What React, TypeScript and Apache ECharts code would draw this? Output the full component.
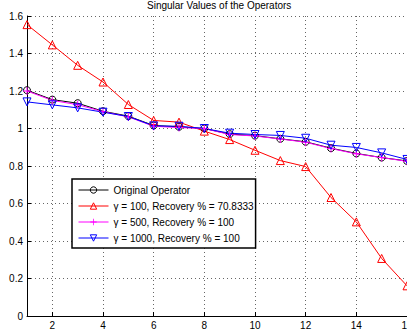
import React, { useEffect, useRef } from "react";
import * as echarts from "echarts";

const xValues = [1, 2, 3, 4, 5, 6, 7, 8, 9, 10, 11, 12, 13, 14, 15, 16];
const xTickValues = [2, 4, 6, 8, 10, 12, 14, 16];
const original = [1.204, 1.154, 1.135, 1.092, 1.066, 1.016, 1.009, 1.0, 0.97, 0.962, 0.945, 0.929, 0.895, 0.867, 0.845, 0.827];
const gamma100 = [1.554, 1.446, 1.337, 1.248, 1.128, 1.043, 1.034, 0.986, 0.941, 0.884, 0.829, 0.797, 0.632, 0.502, 0.307, 0.161];
const gamma500 = [1.2, 1.15, 1.127, 1.09, 1.062, 1.012, 1.005, 1.0, 0.968, 0.96, 0.944, 0.927, 0.893, 0.865, 0.845, 0.825];
const gamma1000 = [1.142, 1.126, 1.11, 1.087, 1.064, 1.014, 1.012, 1.0, 0.975, 0.968, 0.963, 0.948, 0.911, 0.899, 0.87, 0.835];
const seriesNames = [
  "Original Operator",
  "γ = 100, Recovery % = 70.8333",
  "γ = 500, Recovery % = 100",
  "γ = 1000, Recovery % = 100",
];

const FONT = "'Liberation Sans', Arial, sans-serif";
const CLEAR = "rgba(255,255,255,0)";

function pairs(ys: number[]) {
  return xValues.map((x, i) => [x, ys[i]]);
}

export default function App() {
  const ref = useRef<HTMLDivElement>(null);
  useEffect(() => {
    if (!ref.current) return;
    const chart = echarts.init(ref.current, undefined, { renderer: "svg" });
    const mk = (name: string, ys: number[], color: string, symbol: string, size: number, filled: boolean) => ({
      name,
      type: "line",
      data: pairs(ys),
      symbol,
      symbolSize: size,
      showAllSymbol: true,
      lineStyle: { color, width: 1 },
      itemStyle: filled
        ? { color, borderWidth: 0 }
        : { color: CLEAR, borderColor: color, borderWidth: 1 },
      emphasis: { disabled: true },
    });
    chart.setOption({
      animation: false,
      backgroundColor: "#ffffff",
      title: {
        text: "Singular Values of the Operators",
        left: 147,
        top: 0,
        padding: 0,
        textStyle: { fontFamily: FONT, fontSize: 10, fontWeight: "normal", color: "#000" },
      },
      grid: { left: 27, right: 0, top: 16, bottom: 18, containLabel: false, outerBoundsMode: "none" },
      xAxis: {
        type: "value",
        min: 1,
        max: 16,
        axisLine: { show: true, onZero: false, lineStyle: { color: "#000", width: 1 } },
        axisTick: { show: true, inside: true, length: 4, customValues: xTickValues, lineStyle: { color: "#000" } },
        axisLabel: { customValues: xTickValues, fontFamily: FONT, fontSize: 10, color: "#000", margin: 4, hideOverlap: false },
        splitLine: { show: true, lineStyle: { color: "#666", type: [1, 3], width: 1 } },
      },
      yAxis: {
        type: "value",
        min: 0,
        max: 1.6,
        interval: 0.2,
        axisLine: { show: true, lineStyle: { color: "#000", width: 1 } },
        axisTick: { show: true, inside: true, length: 4, lineStyle: { color: "#000" } },
        axisLabel: { fontFamily: FONT, fontSize: 10, color: "#000", margin: 4 },
        splitLine: { show: true, lineStyle: { color: "#666", type: [1, 3], width: 1 } },
      },
      legend: {
        orient: "vertical",
        left: 72,
        top: 179,
        padding: [4, 2, 3, 6],
        itemGap: 2,
        itemWidth: 30,
        itemHeight: 8,
        backgroundColor: "#fff",
        borderColor: "#000",
        borderWidth: 1.5,
        borderRadius: 0,
        selectedMode: false,
        lineStyle: { width: 1 },
        itemStyle: { borderWidth: 1 },
        textStyle: { fontFamily: FONT, fontSize: 10, color: "#000", lineHeight: 14 },
        data: seriesNames,
      },
      series: [
        mk(seriesNames[0], original, "#000000", "circle", 7, false),
        mk(seriesNames[1], gamma100, "#ff0000", "triangle", 8, false),
        mk(seriesNames[2], gamma500, "#ff00ff", "path://M4.4,0H5.6V10H4.4ZM0,4.4H10V5.6H0Z", 8, true),
        mk(seriesNames[3], gamma1000, "#0000ff", "path://M0,0L10,0L5,8.66Z", 8, false),
      ],
    });
    return () => chart.dispose();
  }, []);
  return (
    <div
      ref={ref}
      style={{ position: "fixed", left: 0, top: 0, width: 407, height: 334, background: "#fff" }}
    />
  );
}
